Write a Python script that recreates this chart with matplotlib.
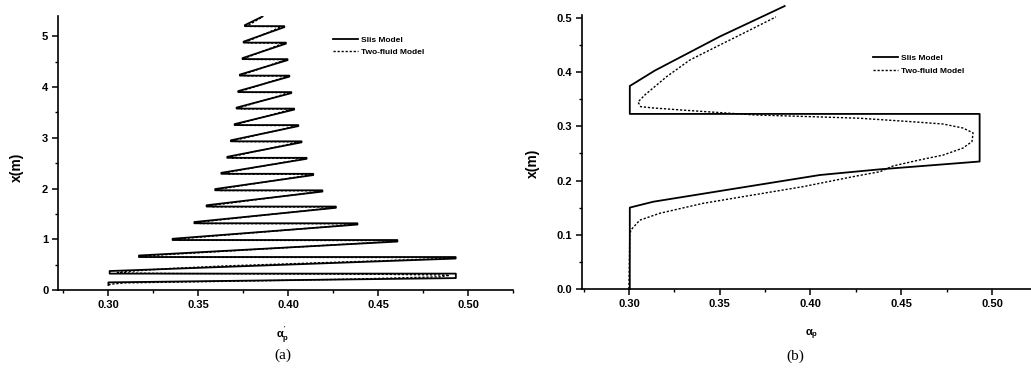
import matplotlib
matplotlib.use("Agg")
import matplotlib.pyplot as plt
from matplotlib.ticker import MultipleLocator

plt.rcParams["font.family"] = ["Liberation Sans", "DejaVu Sans"]
plt.rcParams["mathtext.fontset"] = "custom"
plt.rcParams["mathtext.it"] = "Liberation Sans:bold"
plt.rcParams["mathtext.rm"] = "Liberation Sans:bold"

# (a) full height, sawtooth profiles
slis_a_x = [0.3000, 0.3000, 0.3011, 0.4932, 0.4932, 0.3007, 0.3007,
            0.4931, 0.4931, 0.3170, 0.3170,
            0.4607, 0.4607, 0.3357, 0.3357,
            0.4385, 0.4385, 0.3478, 0.3478,
            0.4265, 0.4265, 0.3546, 0.3546,
            0.4190, 0.4190, 0.3594, 0.3594,
            0.4139, 0.4139, 0.3628, 0.3628,
            0.4102, 0.4102, 0.3661, 0.3661,
            0.4074, 0.4074, 0.3681, 0.3681,
            0.4056, 0.4056, 0.3702, 0.3702,
            0.4033, 0.4033, 0.3713, 0.3713,
            0.4017, 0.4017, 0.3722, 0.3722,
            0.4006, 0.4006, 0.3731, 0.3731,
            0.3996, 0.3996, 0.3746, 0.3746,
            0.3987, 0.3987, 0.3752, 0.3752,
            0.3978, 0.3978, 0.3759, 0.3759,
            0.3857]
slis_a_y = [0.100, 0.150, 0.151, 0.235, 0.323, 0.323, 0.374,
            0.620, 0.650, 0.650, 0.680,
            0.955, 0.985, 0.985, 1.010,
            1.290, 1.315, 1.315, 1.340,
            1.620, 1.645, 1.645, 1.670,
            1.940, 1.965, 1.965, 1.990,
            2.265, 2.290, 2.290, 2.310,
            2.585, 2.605, 2.605, 2.625,
            2.910, 2.930, 2.930, 2.950,
            3.230, 3.250, 3.250, 3.270,
            3.555, 3.575, 3.575, 3.595,
            3.880, 3.900, 3.900, 3.920,
            4.205, 4.225, 4.225, 4.245,
            4.530, 4.550, 4.550, 4.570,
            4.855, 4.875, 4.875, 4.895,
            5.180, 5.200, 5.200, 5.220,
            5.390]

twofluid_a_x = [0.300, 0.3015, 0.309, 0.3408, 0.3959, 0.4383, 0.460, 0.484, 0.4896,
                0.484, 0.455, 0.400, 0.345, 0.3134, 0.305, 0.311, 0.3336, 0.365,
                0.489, 0.490, 0.320, 0.319,
                0.457, 0.458, 0.339, 0.338,
                0.435, 0.436, 0.351, 0.350,
                0.423, 0.424, 0.358, 0.357,
                0.416, 0.417, 0.362, 0.361,
                0.411, 0.412, 0.366, 0.365,
                0.407, 0.408, 0.369, 0.368,
                0.404, 0.405, 0.371, 0.370,
                0.403, 0.404, 0.373, 0.372,
                0.400, 0.401, 0.374, 0.373,
                0.399, 0.400, 0.375, 0.374,
                0.398, 0.399, 0.376, 0.375,
                0.397, 0.398, 0.377, 0.376,
                0.396, 0.397, 0.378, 0.377,
                0.395, 0.396, 0.379, 0.378,
                0.385]
twofluid_a_y = [0.100, 0.115, 0.140, 0.158, 0.1888, 0.2164, 0.238, 0.260, 0.288,
                0.297, 0.309, 0.318, 0.324, 0.332, 0.345, 0.368, 0.4225, 0.475,
                0.620, 0.640, 0.645, 0.670,
                0.955, 0.975, 0.980, 1.005,
                1.285, 1.305, 1.310, 1.335,
                1.615, 1.635, 1.640, 1.665,
                1.935, 1.955, 1.960, 1.985,
                2.260, 2.280, 2.285, 2.310,
                2.575, 2.595, 2.600, 2.625,
                2.900, 2.920, 2.925, 2.950,
                3.220, 3.240, 3.245, 3.270,
                3.545, 3.565, 3.570, 3.595,
                3.870, 3.890, 3.895, 3.920,
                4.195, 4.215, 4.220, 4.245,
                4.520, 4.540, 4.545, 4.570,
                4.845, 4.865, 4.870, 4.895,
                5.170, 5.190, 5.195, 5.220,
                5.370]

# (b) first 0.5 m
slis_b_x = [0.3005, 0.3005, 0.3011, 0.3134, 0.3593, 0.4052, 0.4383, 0.4932,
            0.4932, 0.3005, 0.3005, 0.3143, 0.3500, 0.3858]
slis_b_y = [0.000, 0.150, 0.1507, 0.161, 0.1857, 0.2103, 0.2208, 0.2352,
            0.323, 0.323, 0.3745, 0.403, 0.4656, 0.522]

twofluid_b_x = [0.300, 0.3005, 0.3011, 0.306, 0.317, 0.3408, 0.3683, 0.3959,
                0.4234, 0.4383, 0.4455, 0.460, 0.473, 0.484, 0.489, 0.4896,
                0.484, 0.473, 0.455, 0.4273, 0.400, 0.370, 0.3298, 0.3134,
                0.3065, 0.305, 0.3088, 0.3208, 0.3336, 0.350, 0.365, 0.381]
twofluid_b_y = [0.000, 0.100, 0.1089, 0.127, 0.1397, 0.158, 0.1734, 0.1888,
                0.2072, 0.2164, 0.227, 0.238, 0.247, 0.260, 0.272, 0.288,
                0.297, 0.3044, 0.3088, 0.315, 0.318, 0.321, 0.330, 0.334,
                0.3364, 0.345, 0.358, 0.3918, 0.4225, 0.450, 0.475, 0.502]

legend_labels = ["Slis Model", "Two-fluid Model"]

DOT = (0, (1.6, 1.3))


def style_axes(ax):
    for side in ("top", "right"):
        ax.spines[side].set_visible(False)
    for side in ("left", "bottom"):
        ax.spines[side].set_linewidth(1.2)
    ax.tick_params(which="major", direction="out", length=4, width=1.1,
                   labelsize=8, pad=3)
    ax.tick_params(which="minor", direction="out", length=2.2, width=1.0)
    for lab in ax.get_xticklabels() + ax.get_yticklabels():
        lab.set_fontweight("bold")


fig = plt.figure(figsize=(10.31, 3.72), dpi=100)

ax_a = fig.add_axes([0.0563, 0.2204, 0.4413, 0.7366])
ax_a.plot(slis_a_x, slis_a_y, color="black", lw=1.3, label=legend_labels[0])
ax_a.plot(twofluid_a_x, twofluid_a_y, color="black", lw=1.0,
          linestyle=DOT, label=legend_labels[1])
ax_a.set_xlim(0.272, 0.525)
ax_a.set_ylim(0, 5.4)
ax_a.xaxis.set_minor_locator(MultipleLocator(0.025))
ax_a.yaxis.set_major_locator(MultipleLocator(1))
ax_a.yaxis.set_minor_locator(MultipleLocator(0.5))
ax_a.set_xticks([0.30, 0.35, 0.40, 0.45, 0.50])
ax_a.set_xticklabels(["0.30", "0.35", "0.40", "0.45", "0.50"])
style_axes(ax_a)
ax_a.legend(loc="upper left", bbox_to_anchor=(0.604, 0.925), frameon=False,
            prop={"size": 6, "weight": "bold"}, handlelength=3.0,
            handletextpad=0.4, labelspacing=0.5, borderpad=0,
            borderaxespad=0)

ax_b = fig.add_axes([0.5642, 0.2231, 0.4358, 0.7366])
ax_b.plot(slis_b_x, slis_b_y, color="black", lw=1.3, clip_on=False,
          label=legend_labels[0])
ax_b.plot(twofluid_b_x, twofluid_b_y, color="black", lw=1.0,
          linestyle=DOT, clip_on=False, label=legend_labels[1])
ax_b.set_xlim(0.274, 0.5215)
ax_b.set_ylim(0, 0.5055)
ax_b.xaxis.set_minor_locator(MultipleLocator(0.025))
ax_b.yaxis.set_minor_locator(MultipleLocator(0.05))
ax_b.set_xticks([0.30, 0.35, 0.40, 0.45, 0.50])
ax_b.set_xticklabels(["0.30", "0.35", "0.40", "0.45", "0.50"])
ax_b.set_yticks([0.0, 0.1, 0.2, 0.3, 0.4, 0.5])
ax_b.set_yticklabels(["0.0", "0.1", "0.2", "0.3", "0.4", "0.5"])
style_axes(ax_b)
ax_b.legend(loc="upper left", bbox_to_anchor=(0.648, 0.857), frameon=False,
            prop={"size": 6, "weight": "bold"}, handlelength=3.0,
            handletextpad=0.4, labelspacing=0.6, borderpad=0,
            borderaxespad=0)

# axis titles and panel letters
fig.text(0.0165, 0.551, "x(m)", rotation=90, ha="center", va="center",
         fontsize=10, fontweight="bold")
fig.text(0.517, 0.562, "x(m)", rotation=90, ha="center", va="center",
         fontsize=10, fontweight="bold")
fig.text(0.2745, 0.0995, r"$\alpha_p^{'}$", ha="center", va="center", fontsize=8)
fig.text(0.7876, 0.0995, r"$\alpha_p$", ha="center", va="center", fontsize=8)
fig.text(0.2745, 0.046, "(a)", ha="center", va="center", fontsize=11,
         family="Liberation Serif")
fig.text(0.771, 0.043, "(b)", ha="center", va="center", fontsize=11,
         family="Liberation Serif")

fig.savefig("out.png", dpi=100)
